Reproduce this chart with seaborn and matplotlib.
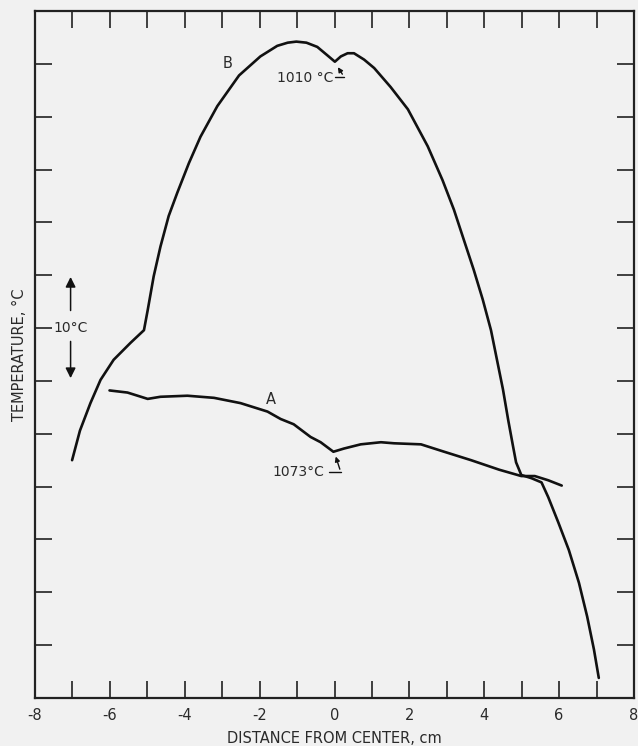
import matplotlib
matplotlib.use('Agg')
import matplotlib.pyplot as plt
import seaborn as sns
import pandas as pd
from matplotlib.ticker import MultipleLocator

# Curve B (distance in cm, temperature in degC above the bottom of the frame)
b_x = [-7.01, -6.80, -6.52, -6.25, -5.90, -5.45, -5.09, -4.99, -4.83, -4.65,
       -4.43, -4.20, -3.89, -3.58, -3.13, -2.55, -1.98, -1.53, -1.25, -1.02,
       -0.75, -0.46, -0.19, 0.01, 0.17, 0.35, 0.52, 0.79, 1.06, 1.50,
       1.96, 2.49, 2.885, 3.19, 3.45, 3.72, 3.96, 4.18, 4.34, 4.50,
       4.64, 4.77, 4.85, 4.99, 5.26, 5.53, 5.71, 5.98, 6.26, 6.53,
       6.75, 6.93, 7.06]
b_y = [22.5, 25.3, 27.9, 30.1, 32.0, 33.6, 34.8, 36.7, 39.9, 42.7,
       45.6, 47.8, 50.6, 53.1, 56.0, 58.9, 60.7, 61.7, 62.0, 62.1,
       62.0, 61.6, 60.8, 60.2, 60.7, 61.0, 61.0, 60.4, 59.6, 57.8,
       55.7, 52.2, 49.0, 46.2, 43.4, 40.5, 37.7, 34.8, 32.0, 29.2,
       26.3, 23.8, 22.3, 21.1, 20.8, 20.4, 19.0, 16.6, 14.0, 10.9,
       7.7, 4.6, 1.9]

# Curve A
a_x = [-6.01, -5.53, -4.99, -4.65, -3.93, -3.22, -2.51, -1.79, -1.44, -1.09,
       -0.64, -0.37, -0.03, 0.25, 0.70, 1.24, 1.59, 2.31, 2.93, 3.65,
       4.40, 4.99, 5.35, 5.71, 6.07]
a_y = [29.1, 28.9, 28.3, 28.5, 28.6, 28.4, 27.9, 27.1, 26.4, 25.9,
       24.7, 24.2, 23.3, 23.6, 24.0, 24.2, 24.1, 24.0, 23.3, 22.5,
       21.6, 21.0, 21.0, 20.6, 20.1]

x_ticks = list(range(-8, 9, 2))

sns.set_style("ticks")
plt.rcParams['font.family'] = ['DejaVu Sans']

bg = '#f1f1f1'
ink = '#111111'
text_c = '#2a2a2a'

fig = plt.figure(figsize=(6.38, 7.46), dpi=100, facecolor=bg)
ax = fig.add_axes([0.0549, 0.0643, 0.9388, 0.9210])
ax.set_facecolor(bg)

df_b = pd.DataFrame({'x': b_x, 'y': b_y})
df_a = pd.DataFrame({'x': a_x, 'y': a_y})
for d in (df_b, df_a):
    sns.lineplot(data=d, x='x', y='y', sort=False, color=ink, lw=1.9, ax=ax,
                 solid_joinstyle='round', solid_capstyle='round')

ax.set_xlim(-8, 8)
ax.set_ylim(0, 65)
ax.set_xticks(x_ticks)
ax.set_xticklabels([str(t) for t in x_ticks])
ax.xaxis.set_minor_locator(MultipleLocator(1))
ax.yaxis.set_major_locator(MultipleLocator(5))
ax.set_yticklabels([])
ax.tick_params(which='both', direction='in', top=True, right=True,
               length=12, width=1.2, color='#222222', labelsize=10.5,
               labelcolor=text_c)
ax.tick_params(axis='x', pad=7)
for s in ax.spines.values():
    s.set_linewidth(1.6)
    s.set_color('#222222')

ax.set_xlabel('DISTANCE FROM CENTER, cm', fontsize=10.5, color=text_c, labelpad=6)
ax.set_ylabel('TEMPERATURE, °C', fontsize=10.5, color=text_c, labelpad=2)

# curve labels
ax.text(-2.87, 60.0, 'B', fontsize=10.5, color=text_c, ha='center', va='center')
ax.text(-1.7, 28.2, 'A', fontsize=10.5, color=text_c, ha='center', va='center')

# 10 degC scale bar
ax.text(-7.05, 35.0, '10°C', fontsize=10, color=text_c, ha='center', va='center')
ax.annotate('', xy=(-7.05, 40.1), xytext=(-7.05, 36.4),
            arrowprops=dict(arrowstyle='-|>', color=ink, lw=1.1, mutation_scale=15))
ax.annotate('', xy=(-7.05, 30.0), xytext=(-7.05, 34.0),
            arrowprops=dict(arrowstyle='-|>', color=ink, lw=1.1, mutation_scale=15))

# minimum annotations
ax.text(-0.77, 58.7, '1010 °C', fontsize=10, color=text_c, ha='center', va='center')
ax.plot([0.0, 0.25], [58.8, 58.8], color=ink, lw=1.0)
ax.annotate('', xy=(0.05, 59.9), xytext=(0.25, 58.8),
            arrowprops=dict(arrowstyle='-|>', color=ink, lw=1.0, mutation_scale=7))

ax.text(-0.96, 21.4, '1073°C', fontsize=10, color=text_c, ha='center', va='center')
ax.plot([-0.15, 0.165], [21.4, 21.4], color=ink, lw=1.0)
ax.annotate('', xy=(0.01, 23.1), xytext=(0.165, 21.4),
            arrowprops=dict(arrowstyle='-|>', color=ink, lw=1.0, mutation_scale=7))

fig.savefig('out.png', dpi=100, facecolor=bg)
